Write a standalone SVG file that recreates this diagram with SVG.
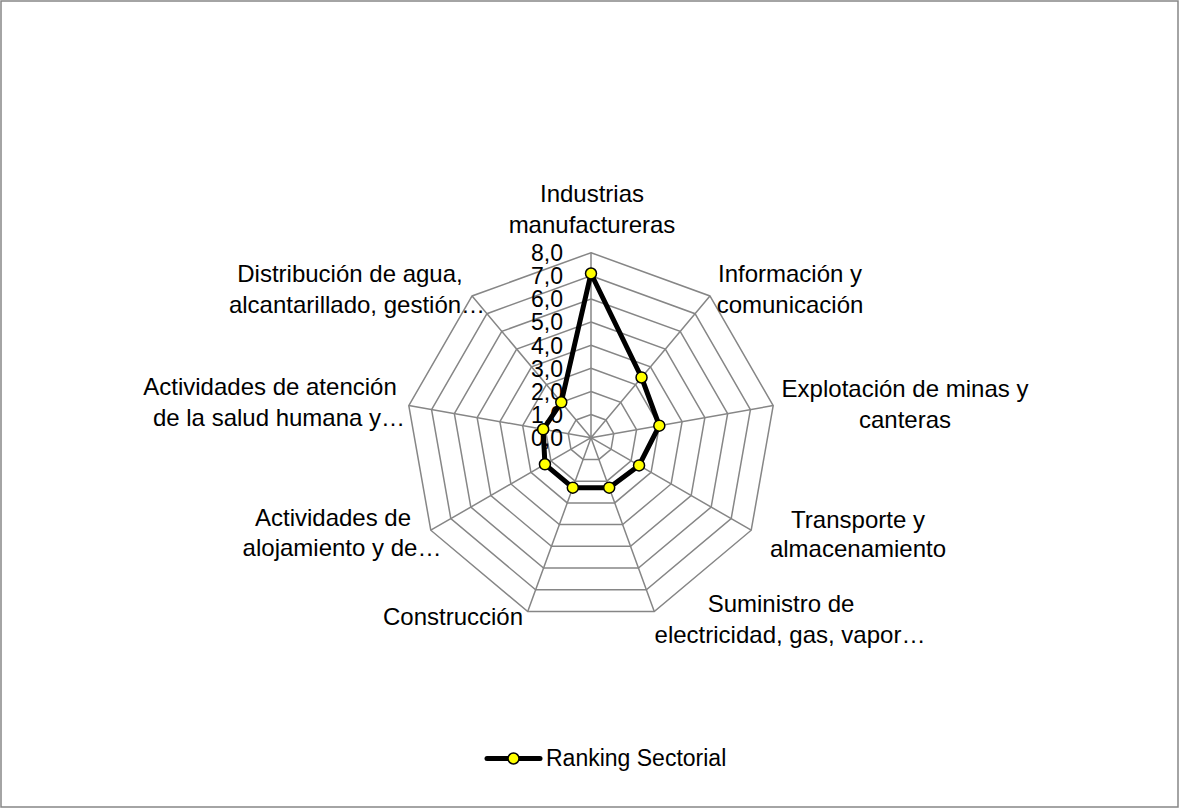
<svg xmlns="http://www.w3.org/2000/svg" xmlns:xlink="http://www.w3.org/1999/xlink" width="1179" height="808" viewBox="0 0 1179 808">
  <style>
    .grid { fill: none; stroke: #868686; stroke-width: 1.5; vector-effect: non-scaling-stroke; }
    .lbl { font-family: "Liberation Sans", Arial, sans-serif; font-size: 24px; fill: #000; text-anchor: middle; }
    .tick { font-family: "Liberation Sans", Arial, sans-serif; font-size: 23px; fill: #000; text-anchor: end; }
    .leg { font-family: "Liberation Sans", Arial, sans-serif; font-size: 23px; fill: #000; }
    .series { fill: none; stroke: #000; stroke-width: 5; stroke-linejoin: round; }
    .mk { fill: #FFFF00; stroke: #000; stroke-width: 1.5; }
  </style>
  <defs>
    <polygon id="ring" class="grid" points="0,-1 0.642788,-0.766044 0.984808,-0.173648 0.866025,0.5 0.342020,0.939693 -0.342020,0.939693 -0.866025,0.5 -0.984808,-0.173648 -0.642788,-0.766044"/>
    <path id="spokes" class="grid" d="M0 0L0 -1M0 0L0.642788 -0.766044M0 0L0.984808 -0.173648M0 0L0.866025 0.5M0 0L0.342020 0.939693M0 0L-0.342020 0.939693M0 0L-0.866025 0.5M0 0L-0.984808 -0.173648M0 0L-0.642788 -0.766044"/>
  </defs>
  <rect x="0" y="0" width="1179" height="808" fill="#fff"/>
  <rect x="1" y="1" width="1177" height="806" fill="none" stroke="#868686" stroke-width="1.5"/>

  <g id="grid">
    <use xlink:href="#ring" transform="translate(591 437.7) scale(23.125)"/>
    <use xlink:href="#ring" transform="translate(591 437.7) scale(46.25)"/>
    <use xlink:href="#ring" transform="translate(591 437.7) scale(69.375)"/>
    <use xlink:href="#ring" transform="translate(591 437.7) scale(92.5)"/>
    <use xlink:href="#ring" transform="translate(591 437.7) scale(115.625)"/>
    <use xlink:href="#ring" transform="translate(591 437.7) scale(138.75)"/>
    <use xlink:href="#ring" transform="translate(591 437.7) scale(161.875)"/>
    <use xlink:href="#ring" transform="translate(591 437.7) scale(185)"/>
    <use xlink:href="#spokes" transform="translate(591 437.7) scale(185)"/>
  </g>

  <g id="ticks">
    <text class="tick" x="563" y="446">0,0</text>
    <text class="tick" x="563" y="422.9">1,0</text>
    <text class="tick" x="563" y="399.8">2,0</text>
    <text class="tick" x="563" y="376.6">3,0</text>
    <text class="tick" x="563" y="353.5">4,0</text>
    <text class="tick" x="563" y="330.4">5,0</text>
    <text class="tick" x="563" y="307.3">6,0</text>
    <text class="tick" x="563" y="284.1">7,0</text>
    <text class="tick" x="563" y="261">8,0</text>
  </g>

  <g id="cat-industrias">
    <text class="lbl" x="592" y="202">Industrias</text>
    <text class="lbl" x="592" y="233">manufactureras</text>
  </g>
  <g id="cat-informacion">
    <text class="lbl" x="790" y="282">Información y</text>
    <text class="lbl" x="790" y="313">comunicación</text>
  </g>
  <g id="cat-explotacion">
    <text class="lbl" x="905" y="397">Explotación de minas y</text>
    <text class="lbl" x="905" y="428">canteras</text>
  </g>
  <g id="cat-transporte">
    <text class="lbl" x="858" y="528">Transporte y</text>
    <text class="lbl" x="858" y="557">almacenamiento</text>
  </g>
  <g id="cat-suministro">
    <text class="lbl" x="781" y="612">Suministro de</text>
    <text class="lbl" x="790" y="643">electricidad, gas, vapor…</text>
  </g>
  <g id="cat-construccion">
    <text class="lbl" x="453" y="625">Construcción</text>
  </g>
  <g id="cat-alojamiento">
    <text class="lbl" x="333" y="526">Actividades de</text>
    <text class="lbl" x="342" y="556">alojamiento y de…</text>
  </g>
  <g id="cat-atencion">
    <text class="lbl" x="270" y="395">Actividades de atención</text>
    <text class="lbl" x="279" y="426">de la salud humana y…</text>
  </g>
  <g id="cat-distribucion">
    <text class="lbl" x="350" y="282">Distribución de agua,</text>
    <text class="lbl" x="357" y="313">alcantarillado, gestión…</text>
  </g>

  <g id="series">
    <polygon class="series" points="591,273.51 641.54,377.47 659.32,425.65 639.06,465.45 609.19,487.68 572.81,487.68 544.94,464.29 543.18,429.27 561.27,402.27"/>
    <circle class="mk" cx="591" cy="273.51" r="5.5"/>
    <circle class="mk" cx="641.54" cy="377.47" r="5.5"/>
    <circle class="mk" cx="659.32" cy="425.65" r="5.5"/>
    <circle class="mk" cx="639.06" cy="465.45" r="5.5"/>
    <circle class="mk" cx="609.19" cy="487.68" r="5.5"/>
    <circle class="mk" cx="572.81" cy="487.68" r="5.5"/>
    <circle class="mk" cx="544.94" cy="464.29" r="5.5"/>
    <circle class="mk" cx="543.18" cy="429.27" r="5.5"/>
    <circle class="mk" cx="561.27" cy="402.27" r="5.5"/>
  </g>

  <g id="legend">
    <line x1="487" y1="758.5" x2="540" y2="758.5" stroke="#000" stroke-width="5" stroke-linecap="round"/>
    <circle class="mk" cx="513.5" cy="758.5" r="5.5"/>
    <text class="leg" x="546" y="766">Ranking Sectorial</text>
  </g>
</svg>
